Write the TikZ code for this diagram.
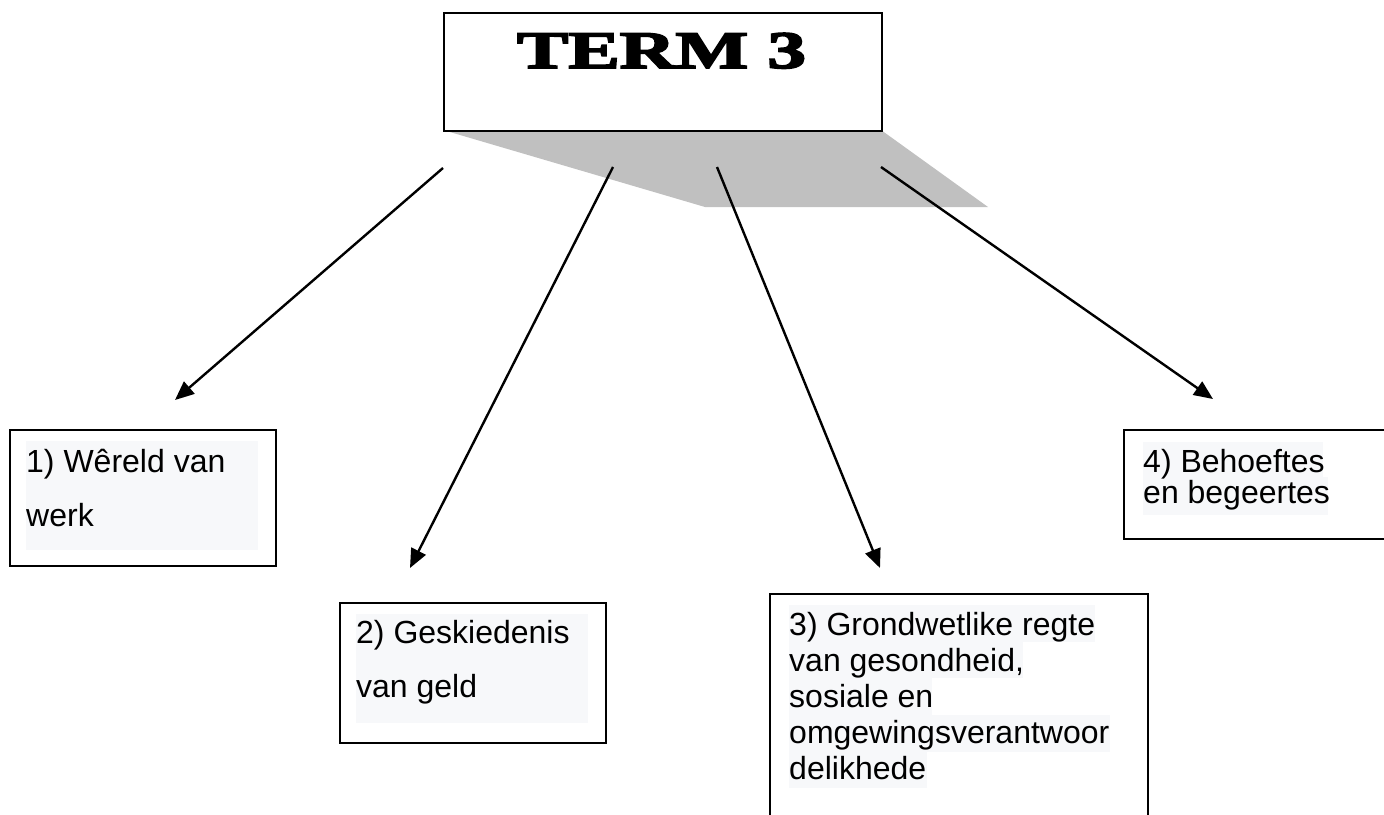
\documentclass[tikz,border=0pt]{standalone}
\usepackage{fontspec}
\setmainfont{Liberation Sans}
\newfontfamily\titlefont[FakeBold=3]{Liberation Serif Bold}
\usetikzlibrary{arrows.meta}
\definecolor{shadowgray}{HTML}{C0C0C0}
\definecolor{hl}{HTML}{F7F8FA}
\newcommand{\mybt}[3]{\parbox[t]{#2}{\raggedright\fontsize{32}{#1}\selectfont #3}}
\tikzset{
  box/.style={draw=black, line width=2pt, anchor=north west, inner sep=0pt},
  lbl/.style={anchor=base west, inner sep=0pt, font=\fontsize{32}{36}\selectfont},
  conn/.style={line width=2.4pt, -{Triangle[length=19pt,width=16pt]}},
}
\begin{document}
\begin{tikzpicture}[x=1pt,y=-1pt]
\useasboundingbox (0,0) rectangle (1384,814);
\clip (0,0) rectangle (1384,814);
% shadow of title box
\fill[shadowgray] (443,130) -- (881,130) -- (988,207) -- (705,207) -- cycle;
\node[box, fill=white, minimum width=438pt, minimum height=118pt] (title) at (443,12) {};
\node[anchor=base, inner sep=0pt] (titletext) at (661.5,68) {\resizebox{289pt}{35pt}{\titlefont TERM 3}};
% boxes
\node[box, minimum width=266pt, minimum height=136pt] (b1) at (9,429) {};
\node[box, minimum width=266pt, minimum height=140pt] (b2) at (339,602) {};
\node[box, minimum width=378pt, minimum height=260pt] (b3) at (769,593) {};
\node[box, minimum width=300pt, minimum height=109pt] (b4) at (1123,429) {};
% light highlights behind text
\fill[hl] (26,441) rectangle (258,550);
\fill[hl] (356,614) rectangle (588,723);
\fill[hl] (789,605) rectangle (1095,642);
\fill[hl] (789,642) rectangle (1023,678);
\fill[hl] (789,678) rectangle (932,715);
\fill[hl] (789,715) rectangle (1110,752);
\fill[hl] (789,752) rectangle (927,788);
\fill[hl] (1143,442) rectangle (1323,477);
\fill[hl] (1143,477) rectangle (1328,515);
% texts
\node[lbl] (t1) at (26,472) {\mybt{54pt}{240pt}{1) Wêreld van\\werk}};
\node[lbl] (t2) at (356,643) {\mybt{54pt}{240pt}{2) Geskiedenis\\van geld}};
\node[lbl] (t3) at (789,635) {\mybt{36.2pt}{350pt}{3) Grondwetlike regte\\van gesondheid,\\sosiale en\\omgewingsverantwoor\\delikhede}};
\node[lbl] (t4) at (1143,472) {\mybt{31pt}{240pt}{4) Behoeftes\\en begeertes}};
% connectors
\coordinate (s1) at (443,168);
\coordinate (e1) at (175,400);
\coordinate (s2) at (613,167);
\coordinate (e2) at (410,568);
\coordinate (s3) at (717,167);
\coordinate (e3) at (880,568);
\coordinate (s4) at (881,167);
\coordinate (e4) at (1213,399);
\draw[conn] (s1) -- (e1);
\draw[conn] (s2) -- (e2);
\draw[conn] (s3) -- (e3);
\draw[conn] (s4) -- (e4);
\end{tikzpicture}
\end{document}
